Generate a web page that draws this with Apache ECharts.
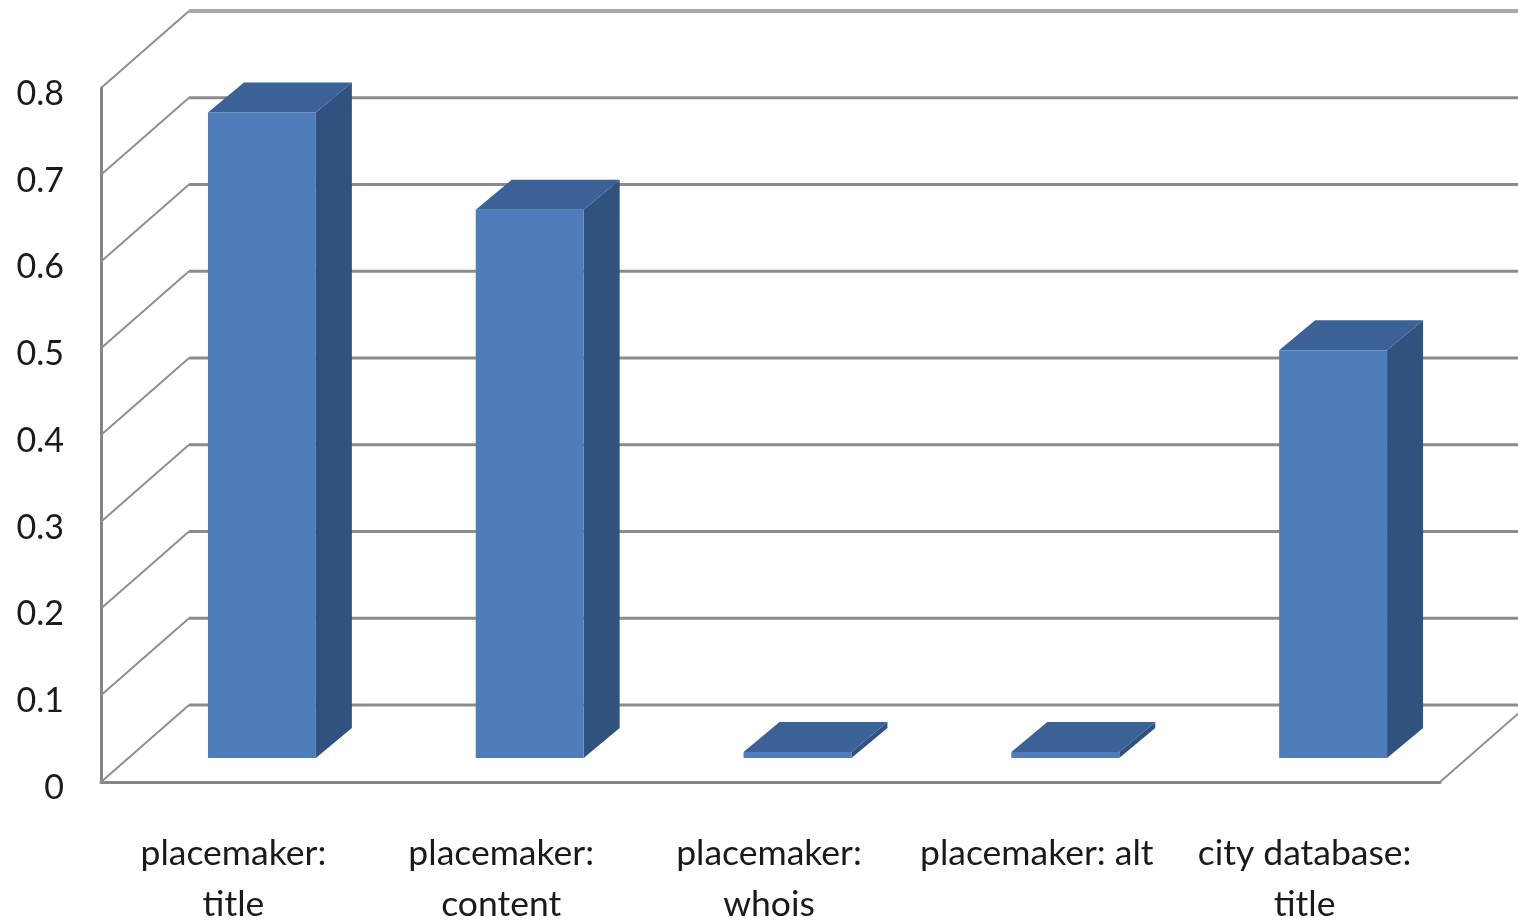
<!DOCTYPE html>
<html>
<head>
<meta charset="utf-8">
<style>html,body{margin:0;padding:0;background:#fff;overflow:hidden}#c{width:1518px;height:922px;filter:blur(0.7px)}</style>
<script src="https://cdn.jsdelivr.net/npm/echarts@6/dist/echarts.min.js"></script>
</head>
<body>
<div id="c"></div>
<script>
const categories = ['placemaker:\ntitle', 'placemaker:\ncontent', 'placemaker:\nwhois', 'placemaker: alt', 'city database:\ntitle'];
const values = [0.744, 0.632, 0.007, 0.007, 0.47];
const yTicks = [0, 0.1, 0.2, 0.3, 0.4, 0.5, 0.6, 0.7, 0.8];

const WALL = [88, -77];       // projection of the chart's full depth
const BAR_FRONT = [27, -24];  // where the front face of a bar sits in that depth
const BAR_DEPTH = [36, -30];  // depth of a bar
const BAR_SHARE = 0.403;

const chart = echarts.init(document.getElementById('c'), null, {renderer: 'canvas'});

function renderWall(params, api) {
  const v = api.value(1);
  const cs = params.coordSys;
  const y = api.coord([0, v])[1];
  const x0 = cs.x, x1 = cs.x + cs.width;
  const top = v === 0.8;
  const children = [{
    type: 'polyline',
    shape: {points: [[x0 + WALL[0], y + WALL[1]], [x1 + WALL[0] + 40, y + WALL[1]]]},
    style: {fill: null, stroke: top ? '#a9a9a9' : '#8b8b8b', lineWidth: top ? 4 : 3}
  }, {
    type: 'polyline',
    shape: {points: [[x0, y], [x0 + WALL[0], y + WALL[1]]]},
    style: {fill: null, stroke: '#8f8f8f', lineWidth: 2}
  }];
  if (v === 0) {
    children.push({
      type: 'polyline',
      shape: {points: [[x1, y], [x1 + WALL[0], y + WALL[1]]]},
      style: {fill: null, stroke: '#8f8f8f', lineWidth: 2}
    });
  }
  return {type: 'group', children};
}

function renderBar(params, api) {
  const base = api.coord([api.value(0), 0]);
  const topPt = api.coord([api.value(0), api.value(1)]);
  const w = api.size([1, 0])[0] * BAR_SHARE;
  const xl = base[0] + BAR_FRONT[0] - w / 2, xr = xl + w;
  const yb = base[1] + BAR_FRONT[1], yt = topPt[1] + BAR_FRONT[1];
  const dx = BAR_DEPTH[0], dy = BAR_DEPTH[1];
  return {
    type: 'group',
    children: [
      {type: 'polygon', shape: {points: [[xr, yb], [xr + dx, yb + dy], [xr + dx, yt + dy], [xr, yt]]}, style: {fill: '#31527f'}},
      {type: 'polygon', shape: {points: [[xl, yt], [xr, yt], [xr + dx, yt + dy], [xl + dx, yt + dy]]}, style: {fill: '#3a6296'}},
      {type: 'rect', shape: {x: xl, y: yt, width: w, height: yb - yt}, style: {fill: '#4f7dbc'}}
    ]
  };
}

chart.setOption({
  animation: false,
  backgroundColor: '#ffffff',
  grid: {left: 101, top: 88, width: 1339, height: 694, containLabel: false, outerBoundsMode: 'none'},
  xAxis: {
    type: 'category',
    data: categories,
    axisLine: {show: true, lineStyle: {color: '#858585', width: 3}},
    axisTick: {show: false},
    axisLabel: {interval: 0, margin: 46, fontFamily: 'Lato', fontSize: 35.5, lineHeight: 51, color: '#1a1a1a', padding: [0, 3, 0, 0]},
    splitLine: {show: false}
  },
  yAxis: {
    type: 'value',
    min: 0,
    max: 0.8,
    interval: 0.1,
    axisLine: {show: true, lineStyle: {color: '#858585', width: 3}},
    axisTick: {show: false},
    axisLabel: {margin: 37, fontFamily: 'Lato', fontSize: 34, color: '#1a1a1a', verticalAlign: 'top', lineHeight: 12},
    splitLine: {show: false}
  },
  series: [
    {type: 'custom', name: 'walls', renderItem: renderWall, silent: true, z: 1, clip: false,
      data: yTicks.map(t => [0, t])},
    {type: 'custom', name: 'bars', renderItem: renderBar, z: 3, clip: false,
      data: values.map((v, i) => [i, v])}
  ]
});
</script>
</body>
</html>
